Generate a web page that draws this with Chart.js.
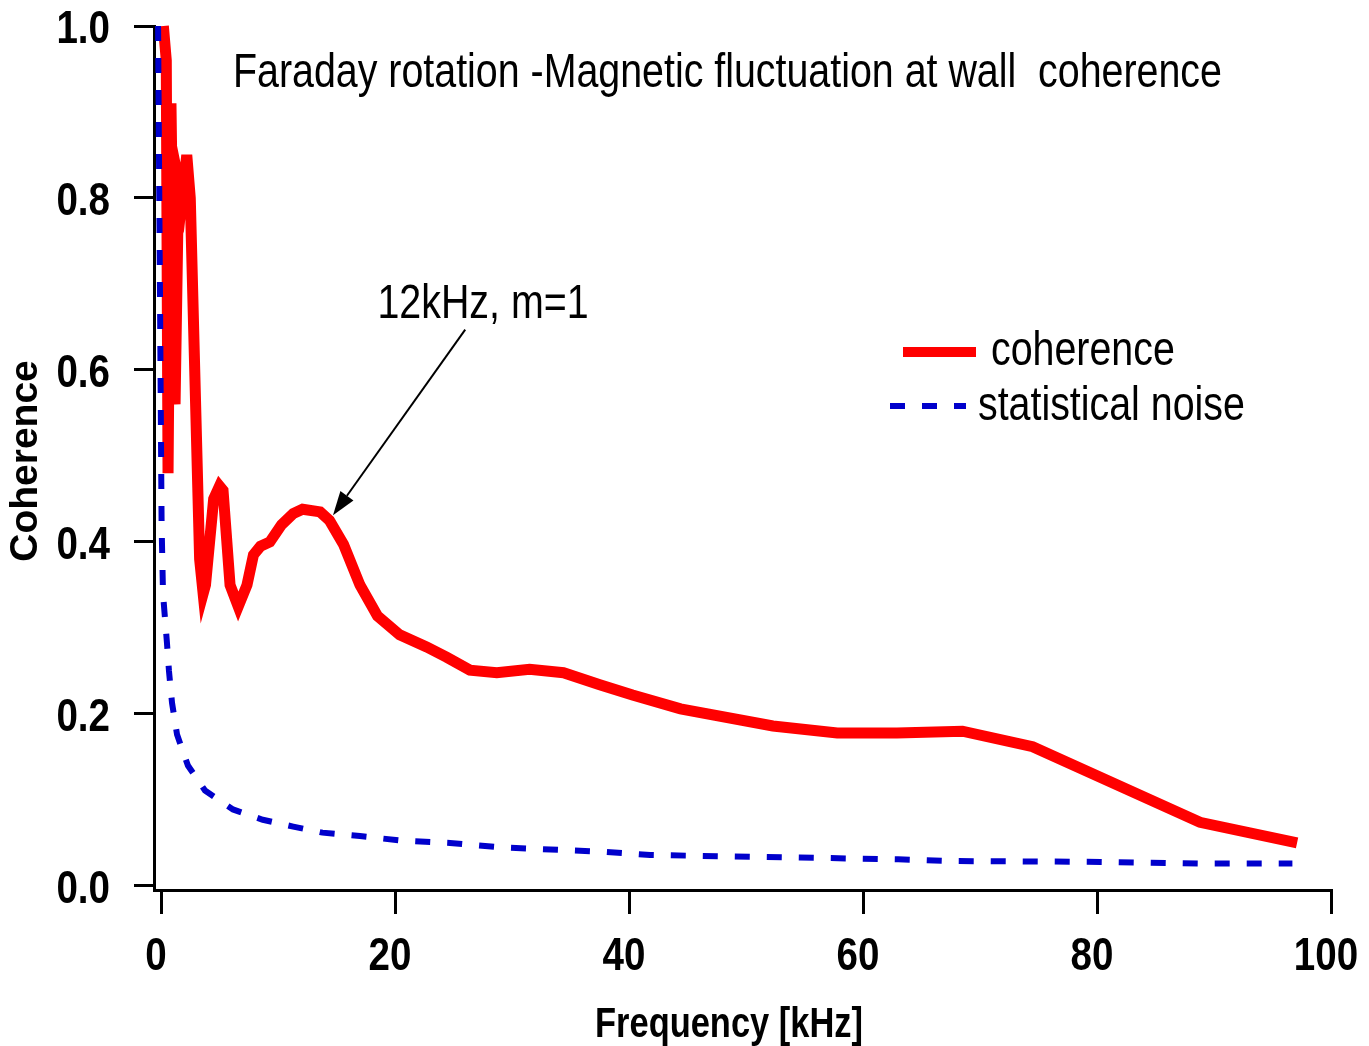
<!DOCTYPE html>
<html>
<head>
<meta charset="utf-8">
<script src="https://cdn.jsdelivr.net/npm/chart.js@4.4.1/dist/chart.umd.min.js"></script>
<style>
  html, body { margin: 0; padding: 0; background: #fff; }
  #wrap { width: 1369px; height: 1046px; }
</style>
</head>
<body>
<div id="wrap"><canvas id="c" width="1369" height="1046"></canvas></div>
<script>
// coherence (red)
const cohFreq = [0.2, 0.45, 0.6, 0.85, 1.2, 1.5, 1.8, 2.2, 2.5, 3.3, 3.6, 3.8, 4.5, 5.0, 5.3, 5.9, 6.6, 7.35, 7.9, 8.5, 9.3, 10.3, 11.3, 12.1, 13.6, 14.4, 15.6, 17.0, 18.5, 20.4, 22.7, 24.4, 26.4, 28.7, 31.5, 34.4, 37.5, 40.3, 44.4, 52.3, 57.8, 62.9, 68.5, 74.5, 88.8, 97.1];
const cohVals = [1.0, 0.96, 0.48, 0.91, 0.56, 0.82, 0.80, 0.85, 0.80, 0.38, 0.34, 0.35, 0.45, 0.465, 0.46, 0.35, 0.325, 0.35, 0.385, 0.395, 0.40, 0.42, 0.433, 0.438, 0.435, 0.425, 0.397, 0.35, 0.314, 0.292, 0.278, 0.266, 0.251, 0.248, 0.252, 0.248, 0.234, 0.222, 0.206, 0.186, 0.178, 0.178, 0.180, 0.162, 0.074, 0.05];

// statistical noise (blue dashed)
const noiseFreq = [-0.25, 0.05, 0.17, 0.5, 0.68, 0.94, 1.37, 2.3, 3.76, 6.15, 8.7, 11.3, 13.8, 17, 20.4, 24.7, 29, 34, 37.5, 41.8, 46, 54.6, 63, 67.4, 80.3, 88.8, 96.7];
const noiseVals = [1.0, 0.42, 0.34, 0.284, 0.25, 0.213, 0.176, 0.14, 0.111, 0.089, 0.077, 0.069, 0.062, 0.058, 0.053, 0.05, 0.045, 0.042, 0.04, 0.036, 0.035, 0.033, 0.031, 0.029, 0.028, 0.026, 0.026];

const xTicks = [0, 20, 40, 60, 80, 100];
const yTicks = [0, 0.2, 0.4, 0.6, 0.8, 1.0];

const titleText = 'Faraday rotation -Magnetic fluctuation at wall  coherence';
const noteText = '12kHz, m=1';
const noteAt = { x: 18.5, y: 0.66 };
const noteTip = { x: 14.7, y: 0.431 };   // arrow tip (data units)
const noteTail = { x: 26.0, y: 0.647 };

// no Arial Narrow here, so squeeze Liberation Sans sideways
const FONT = "'Liberation Sans', Arial, sans-serif";
const SQUEEZE = 0.82;

const pts = (xs, ys) => xs.map((x, i) => ({ x, y: ys[i] }));

function narrowText(ctx, text, x, y, font, align) {
  ctx.save();
  ctx.translate(x, y);
  ctx.scale(SQUEEZE, 1);
  ctx.font = font;
  ctx.textAlign = align;
  ctx.textBaseline = 'alphabetic';
  ctx.fillText(text, 0, 0);
  ctx.restore();
}

// tick labels, texts, arrow and legend
const decorations = {
  id: 'decorations',
  afterDraw(chart) {
    const ctx = chart.ctx;
    const xs = chart.scales.x, ys = chart.scales.y;
    ctx.save();
    ctx.fillStyle = '#000';

    const tickFont = `bold 47px ${FONT}`;
    xs.ticks.forEach(t => narrowText(ctx, String(t.value), xs.getPixelForValue(t.value) - 5, 970, tickFont, 'center'));
    ys.ticks.forEach(t => narrowText(ctx, t.value.toFixed(1), 110, ys.getPixelForValue(t.value) + 17, tickFont, 'right'));

    const txtFont = `48px ${FONT}`;
    narrowText(ctx, titleText, 233, 87, txtFont, 'left');
    narrowText(ctx, noteText, xs.getPixelForValue(noteAt.x), ys.getPixelForValue(noteAt.y), txtFont, 'left');

    // arrow
    const tx = xs.getPixelForValue(noteTip.x), ty = ys.getPixelForValue(noteTip.y);
    const sx = xs.getPixelForValue(noteTail.x), sy = ys.getPixelForValue(noteTail.y);
    const ang = Math.atan2(ty - sy, tx - sx);
    const hl = 24, hw = 8;
    const bx = tx - hl * Math.cos(ang), by = ty - hl * Math.sin(ang);
    ctx.strokeStyle = '#000';
    ctx.lineWidth = 2;
    ctx.beginPath();
    ctx.moveTo(sx, sy);
    ctx.lineTo(bx, by);
    ctx.stroke();
    ctx.beginPath();
    ctx.moveTo(tx, ty);
    ctx.lineTo(bx + hw * Math.sin(ang), by - hw * Math.cos(ang));
    ctx.lineTo(bx - hw * Math.sin(ang), by + hw * Math.cos(ang));
    ctx.closePath();
    ctx.fill();

    // legend
    ctx.strokeStyle = '#ff0000';
    ctx.lineWidth = 10;
    ctx.lineCap = 'butt';
    ctx.beginPath();
    ctx.moveTo(903, 352);
    ctx.lineTo(976, 352);
    ctx.stroke();
    ctx.strokeStyle = '#0000cc';
    ctx.lineWidth = 6;
    ctx.setLineDash([15, 17]);
    ctx.beginPath();
    ctx.moveTo(890, 406);
    ctx.lineTo(966, 406);
    ctx.stroke();
    ctx.setLineDash([]);
    narrowText(ctx, 'coherence', 991, 365, txtFont, 'left');
    narrowText(ctx, 'statistical noise', 978, 420, txtFont, 'left');

    // axis titles
    narrowText(ctx, 'Frequency [kHz]', 729, 1037, `bold 42px ${FONT}`, 'center');
    ctx.translate(37, 461);
    ctx.rotate(-Math.PI / 2);
    ctx.font = `bold 39px ${FONT}`;
    ctx.textAlign = 'center';
    ctx.fillText('Coherence', 0, 0);
    ctx.restore();
  }
};

const noPad = s => { s.paddingTop = 0; s.paddingBottom = 0; s.paddingLeft = 0; s.paddingRight = 0; };

new Chart(document.getElementById('c'), {
  type: 'scatter',
  data: {
    datasets: [
      {
        label: 'statistical noise',
        data: pts(noiseFreq, noiseVals),
        showLine: true,
        borderColor: '#0000cc',
        borderWidth: 6,
        borderDash: [15, 17],
        pointRadius: 0,
        tension: 0,
        clip: false
      },
      {
        label: 'coherence',
        data: pts(cohFreq, cohVals),
        showLine: true,
        borderColor: '#ff0000',
        borderWidth: 11,
        borderJoinStyle: 'miter',
        pointRadius: 0,
        tension: 0,
        clip: false
      }
    ]
  },
  options: {
    responsive: false,
    animation: false,
    events: [],
    layout: { padding: { top: 26, right: 38, left: 0, bottom: 0 } },
    plugins: { legend: { display: false }, tooltip: { enabled: false } },
    scales: {
      x: {
        type: 'linear',
        min: -0.6,
        max: 100,
        afterBuildTicks: s => { s.ticks = xTicks.map(v => ({ value: v })); },
        afterFit: s => { s.height = 156; noPad(s); },
        grid: { drawOnChartArea: false, drawTicks: true, tickLength: 24, lineWidth: 3, color: '#000' },
        border: { display: true, color: '#000', width: 3 },
        ticks: { display: false }
      },
      y: {
        type: 'linear',
        min: -0.0047,
        max: 1.0,
        afterBuildTicks: s => { s.ticks = yTicks.map(v => ({ value: v })); },
        afterFit: s => { s.width = 154; noPad(s); },
        grid: { drawOnChartArea: false, drawTicks: true, tickLength: 20, lineWidth: 3, color: '#000' },
        border: { display: true, color: '#000', width: 3 },
        ticks: { display: false }
      }
    }
  },
  plugins: [decorations]
});
</script>
</body>
</html>
